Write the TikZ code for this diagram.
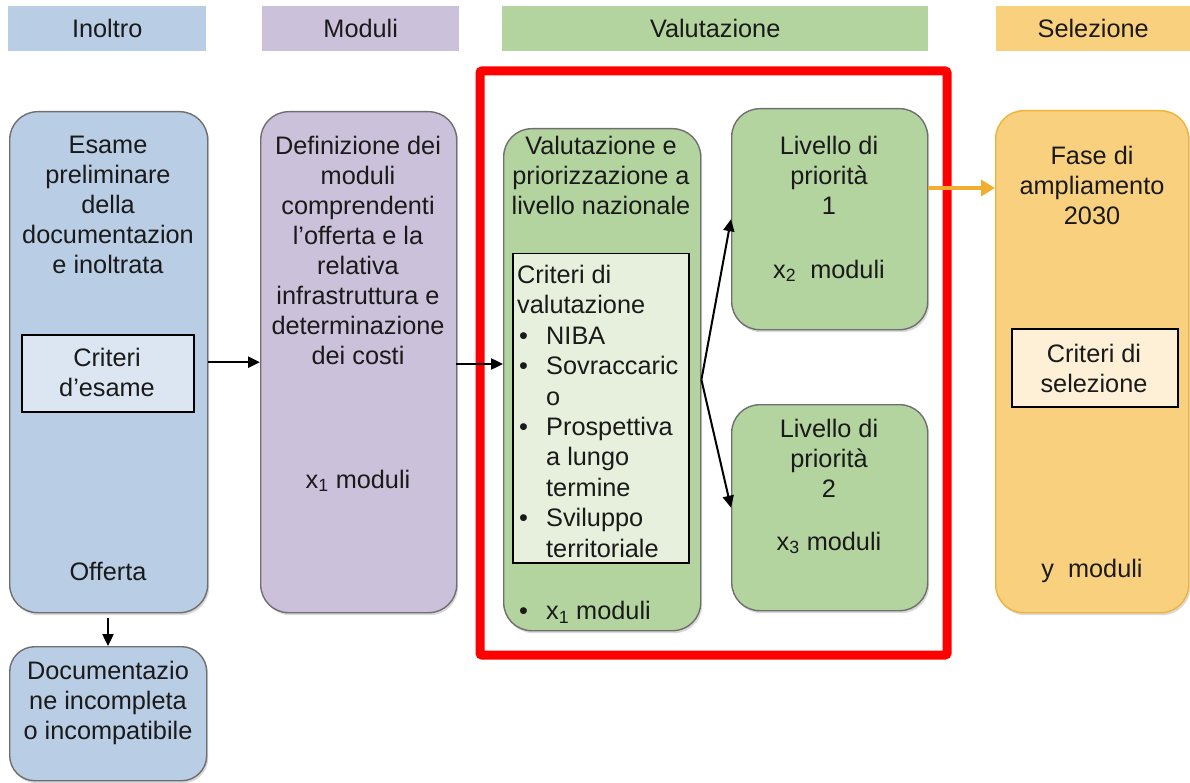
\documentclass[tikz,border=0pt]{standalone}
\usepackage{fontspec}
\setmainfont{Liberation Sans}
\usetikzlibrary{arrows.meta,shadows}
\definecolor{hblue}{HTML}{B9CDE5}
\definecolor{iblue}{HTML}{DCE6F2}
\definecolor{hpurple}{HTML}{CCC1DA}
\definecolor{hgreen}{HTML}{B3D49F}
\definecolor{igreen}{HTML}{E6F0DC}
\definecolor{horange}{HTML}{F9D17E}
\definecolor{borange}{HTML}{F2B23A}
\definecolor{iorange}{HTML}{FEF0D6}
\definecolor{aorange}{HTML}{F2AE30}
\definecolor{boxgray}{HTML}{6F6F6F}
\definecolor{txtc}{HTML}{1A1A1A}
\newcommand\myfs{\fontsize{25.3}{30}\selectfont}
\newcommand\mylbul{\makebox[29pt][l]{\hspace{2pt}•}}
\begin{document}
\begin{tikzpicture}[x=1pt,y=-1pt,
  box/.style={draw=boxgray, line width=1.4pt, rounded corners=28pt, anchor=north west, inner sep=0pt,
    drop shadow={shadow xshift=1.5pt, shadow yshift=-2.5pt, opacity=0.3}},
  ibox/.style={draw=black, line width=1.5pt, anchor=north west, inner sep=0pt},
  hdr/.style={anchor=north west, inner sep=0pt, font=\myfs, text=txtc},
  txt/.style={inner sep=0pt, align=center, anchor=north, font=\myfs, text=txtc, execute at begin node=\strut},
  lst/.style={inner sep=0pt, align=left, anchor=north west, font=\fontsize{25.3}{30.4}\selectfont, text=txtc, execute at begin node=\strut},
  arr/.style={line width=2.4pt, -{Triangle[length=12pt,width=11pt]}},
  oarr/.style={aorange, line width=4pt, -{Triangle[length=14pt,width=16pt]}}]
\useasboundingbox (0,0) rectangle (1190,783);
% headers
\node[hdr, fill=hblue, minimum width=198pt, minimum height=45pt] (h1) at (8,6) {};
\node[font=\myfs, text=txtc] (h1t) at (h1.center) {Inoltro};
\node[hdr, fill=hpurple, minimum width=197pt, minimum height=45pt] (h2) at (262,6) {};
\node[font=\myfs, text=txtc] (h2t) at (h2.center) {Moduli};
\node[hdr, fill=hgreen, minimum width=426pt, minimum height=45pt] (h3) at (502,6) {};
\node[font=\myfs, text=txtc] (h3t) at (h3.center) {Valutazione};
\node[hdr, fill=horange, minimum width=194pt, minimum height=45pt] (h4) at (996,6) {};
\node[font=\myfs, text=txtc] (h4t) at (h4.center) {Selezione};
% red frame
\draw[red, line width=9pt, rounded corners=2pt] (480,71) rectangle (947,655);
% blue
\node[box, fill=hblue, minimum width=198pt, minimum height=501pt] (esame) at (9,111) {};
\node[txt] (esamet) at (108,136) {Esame\\preliminare\\della\\documentazion\\e inoltrata};
\node[ibox, fill=iblue, minimum width=172pt, minimum height=77pt] (critesame) at (21,334) {};
\node[txt] (critesamet) at (107,348) {Criteri\\d’esame};
\node[txt] (offerta) at (108,559) {Offerta};
\node[box, fill=hblue, minimum width=197pt, minimum height=134pt, rounded corners=25pt] (doc) at (9,646) {};
\node[txt] (doct) at (108,661) {Documentazio\\ne incompleta\\o incompatibile};
% purple
\node[box, fill=hpurple, minimum width=196pt, minimum height=501pt] (def) at (260,111) {};
\node[txt] (deft) at (358,136) {Definizione dei\\moduli\\comprendenti\\l’offerta e la\\relativa\\infrastruttura e\\determinazione\\dei costi};
\node[txt] (x1a) at (358,467) {x\textsubscript{1} moduli};
% green 1
\node[box, fill=hgreen, minimum width=197pt, minimum height=502pt] (val) at (503,128) {};
\node[txt] (valt) at (601,136) {Valutazione e\\priorizzazione a\\livello nazionale};
\node[ibox, fill=igreen, minimum width=176pt, minimum height=309pt] (critval) at (512,253) {};
\node[lst] (critvalt) at (517,265) {Criteri di\\valutazione\\\mylbul NIBA\\\mylbul Sovraccaric\\\hspace*{29pt}o\\\mylbul Prospettiva\\\hspace*{29pt}a lungo\\\hspace*{29pt}termine\\\mylbul Sviluppo\\\hspace*{29pt}territoriale};
\node[lst] (x1b) at (517,598) {\mylbul x\textsubscript{1} moduli};
% green 2,3
\node[box, fill=hgreen, minimum width=196pt, minimum height=221pt] (liv1) at (731,108) {};
\node[txt] (liv1t) at (829,136) {Livello di\\priorità\\1};
\node[txt] (x2) at (829,257) {x\textsubscript{2}\ \ moduli};
\node[box, fill=hgreen, minimum width=196pt, minimum height=206pt] (liv2) at (731,404) {};
\node[txt] (liv2t) at (829,419) {Livello di\\priorità\\2};
\node[txt] (x3) at (829,529) {x\textsubscript{3} moduli};
% orange
\node[box, draw=borange, fill=horange, minimum width=193pt, minimum height=502pt] (fase) at (995,110) {};
\node[txt] (faset) at (1092,146) {Fase di\\ampliamento\\2030};
\node[ibox, fill=iorange, minimum width=166pt, minimum height=78pt] (critsel) at (1011,328) {};
\node[txt] (critselt) at (1094,344) {Criteri di\\selezione};
\node[txt] (ymod) at (1092,556) {y\ \ moduli};
% arrows
\coordinate (es) at (108,618);
\draw[arr] (es) -- (es |- doc.north);
\draw[arr] (esame.east) -- (def.west);
\coordinate (pa) at (456,364);
\draw[arr] (pa) -- (pa -| val.west);
\draw[arr, line width=2pt] (val.east) -- (liv1.west);
\draw[arr, line width=2pt] (val.east) -- (liv2.west);
\coordinate (oa) at (928,188);
\draw[oarr] (oa) -- (oa -| fase.west);
\end{tikzpicture}
\end{document}
